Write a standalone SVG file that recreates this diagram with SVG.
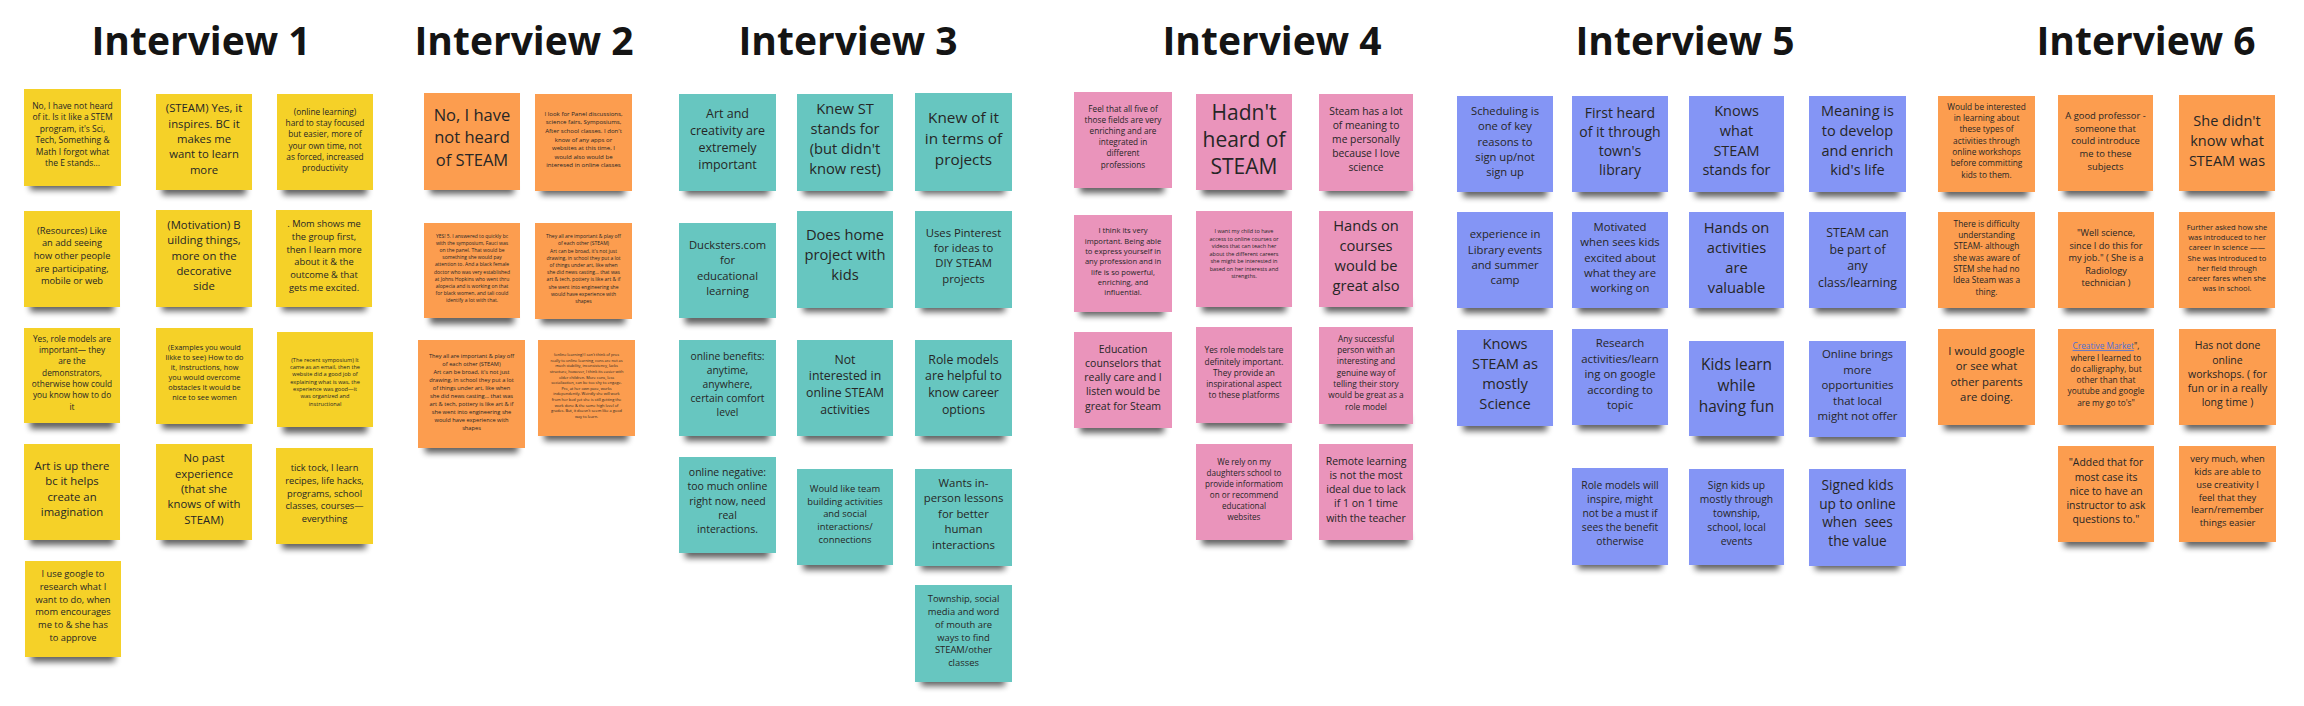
<svg xmlns="http://www.w3.org/2000/svg" width="2304" height="706" viewBox="0 0 2304 706">
<defs>
<filter id="bl" x="-20%" y="-100%" width="140%" height="400%"><feGaussianBlur stdDeviation="3"/><feOffset dy="2.5"/></filter>
<style>
.t{font-family:"Open Sans","Liberation Sans",sans-serif;fill:#262626;text-anchor:middle}
.h{font-family:"Open Sans","Liberation Sans",sans-serif;font-weight:700;font-size:39px;fill:#141414;text-anchor:middle}
.y{fill:#F5D128}.o{fill:#FC9D4F}.g{fill:#67C6C0}.p{fill:#EA94BB}.b{fill:#8495F5}
.s{fill:#000;opacity:.62;filter:url(#bl)}
.lk{fill:#4a6fd6;text-decoration:underline}
</style>
</defs>
<rect width="2304" height="706" fill="#fff"/>
<g id="titles">
<text class="h" x="201" y="55">Interview 1</text>
<text class="h" x="524" y="55">Interview 2</text>
<text class="h" x="848" y="55">Interview 3</text>
<text class="h" x="1272" y="55">Interview 4</text>
<text class="h" x="1685" y="55">Interview 5</text>
<text class="h" x="2146" y="55">Interview 6</text>
</g>
<g id="connectors"/>
<!-- Interview 1 -->
<g id="i1n1" transform="translate(24,89)"><rect class="s" x="6" y="86" width="84" height="12"/><rect class="y" width="97" height="97"/><text class="t" font-size="8.5"><tspan x="48.5" y="19.6">No, I have not heard</tspan><tspan x="48.5" dy="11.5">of it. Is it like a STEM</tspan><tspan x="48.5" dy="11.5">program, it's Sci,</tspan><tspan x="48.5" dy="11.5">Tech, Something &amp;</tspan><tspan x="48.5" dy="11.5">Math I forgot what</tspan><tspan x="48.5" dy="11.5">the E stands...</tspan></text></g>
<g id="i1n2" transform="translate(156,94)"><rect class="s" x="6" y="86" width="84" height="12"/><rect class="y" width="96" height="96"/><text class="t" font-size="11.3"><tspan x="48" y="18.4">(STEAM) Yes, it</tspan><tspan x="48" dy="15.3">inspires. BC it</tspan><tspan x="48" dy="15.3">makes me</tspan><tspan x="48" dy="15.3">want to learn</tspan><tspan x="48" dy="15.3">more</tspan></text></g>
<g id="i1n3" transform="translate(277,94)"><rect class="s" x="6" y="86" width="84" height="12"/><rect class="y" width="96" height="96"/><text class="t" font-size="8.3"><tspan x="48" y="20.8">(online learning)</tspan><tspan x="48" dy="11.3">hard to stay focused</tspan><tspan x="48" dy="11.3">but easier, more of</tspan><tspan x="48" dy="11.3">your own time, not</tspan><tspan x="48" dy="11.3">as forced, increased</tspan><tspan x="48" dy="11.3">productivity</tspan></text></g>
<g id="i1n4" transform="translate(24,211)"><rect class="s" x="6" y="86" width="84" height="12"/><rect class="y" width="96" height="96"/><text class="t" font-size="9.3"><tspan x="48" y="22.5">(Resources) Like</tspan><tspan x="48" dy="12.7">an add seeing</tspan><tspan x="48" dy="12.7">how other people</tspan><tspan x="48" dy="12.7">are participating,</tspan><tspan x="48" dy="12.7">mobile or web</tspan></text></g>
<g id="i1n5" transform="translate(156,210)"><rect class="s" x="6" y="86" width="84" height="12"/><rect class="y" width="96" height="97"/><text class="t" font-size="11.3"><tspan x="48" y="19.1">(Motivation) B</tspan><tspan x="48" dy="15.3">uilding things,</tspan><tspan x="48" dy="15.3">more on the</tspan><tspan x="48" dy="15.3">decorative</tspan><tspan x="48" dy="15.3">side</tspan></text></g>
<g id="i1n6" transform="translate(276,210)"><rect class="s" x="6" y="86" width="84" height="12"/><rect class="y" width="96" height="97"/><text class="t" font-size="9.3"><tspan x="48" y="17.1">. Mom shows me</tspan><tspan x="48" dy="12.7">the group first,</tspan><tspan x="48" dy="12.7">then I learn more</tspan><tspan x="48" dy="12.7">about it &amp; the</tspan><tspan x="48" dy="12.7">outcome &amp; that</tspan><tspan x="48" dy="12.7">gets me excited.</tspan></text></g>
<g id="i1n7" transform="translate(24,328)"><rect class="s" x="6" y="86" width="84" height="12"/><rect class="y" width="96" height="95"/><text class="t" font-size="8.3"><tspan x="48" y="13.8">Yes, role models are</tspan><tspan x="48" dy="11.3">important— they</tspan><tspan x="48" dy="11.3">are the</tspan><tspan x="48" dy="11.3">demonstrators,</tspan><tspan x="48" dy="11.3">otherwise how could</tspan><tspan x="48" dy="11.3">you know how to do</tspan><tspan x="48" dy="11.3">it</tspan></text></g>
<g id="i1n8" transform="translate(156,328)"><rect class="s" x="6" y="86" width="84" height="12"/><rect class="y" width="97" height="96"/><text class="t" font-size="7.4"><tspan x="48.5" y="21.9">(Examples you would</tspan><tspan x="48.5" dy="10">likke to see) How to do</tspan><tspan x="48.5" dy="10">it, Instructions, how</tspan><tspan x="48.5" dy="10">you would overcome</tspan><tspan x="48.5" dy="10">obstacles It would be</tspan><tspan x="48.5" dy="10">nice to see women</tspan></text></g>
<g id="i1n9" transform="translate(277,332)"><rect class="s" x="6" y="86" width="84" height="12"/><rect class="y" width="96" height="95"/><text class="t" font-size="5.6"><tspan x="48" y="29.8">(The recent symposium) It</tspan><tspan x="48" dy="7.3">came as an email, then the</tspan><tspan x="48" dy="7.3">website did a good job of</tspan><tspan x="48" dy="7.3">explaining what is was, the</tspan><tspan x="48" dy="7.3">experience was good—it</tspan><tspan x="48" dy="7.3">was organized and</tspan><tspan x="48" dy="7.3">instructional</tspan></text></g>
<g id="i1n10" transform="translate(24,444)"><rect class="s" x="6" y="86" width="84" height="12"/><rect class="y" width="96" height="96"/><text class="t" font-size="11.3"><tspan x="48" y="26.1">Art is up there</tspan><tspan x="48" dy="15.3">bc it helps</tspan><tspan x="48" dy="15.3">create an</tspan><tspan x="48" dy="15.3">imagination</tspan></text></g>
<g id="i1n11" transform="translate(156,444)"><rect class="s" x="6" y="86" width="84" height="12"/><rect class="y" width="96" height="96"/><text class="t" font-size="11.3"><tspan x="48" y="18.4">No past</tspan><tspan x="48" dy="15.3">experience</tspan><tspan x="48" dy="15.3">(that she</tspan><tspan x="48" dy="15.3">knows of with</tspan><tspan x="48" dy="15.3">STEAM)</tspan></text></g>
<g id="i1n12" transform="translate(276,448)"><rect class="s" x="6" y="86" width="84" height="12"/><rect class="y" width="97" height="96"/><text class="t" font-size="9.3"><tspan x="48.5" y="23.1">tick tock, I learn</tspan><tspan x="48.5" dy="12.7">recipes, life hacks,</tspan><tspan x="48.5" dy="12.7">programs, school</tspan><tspan x="48.5" dy="12.7">classes, courses—</tspan><tspan x="48.5" dy="12.7">everything</tspan></text></g>
<g id="i1n13" transform="translate(25,561)"><rect class="s" x="6" y="86" width="84" height="12"/><rect class="y" width="96" height="96"/><text class="t" font-size="9.3"><tspan x="48" y="16.1">I use google to</tspan><tspan x="48" dy="12.7">research what I</tspan><tspan x="48" dy="12.7">want to do, when</tspan><tspan x="48" dy="12.7">mom encourages</tspan><tspan x="48" dy="12.7">me to &amp; she has</tspan><tspan x="48" dy="12.7">to approve</tspan></text></g>
<!-- Interview 2 -->
<g id="i2n1" transform="translate(424,93)"><rect class="s" x="6" y="86" width="84" height="12"/><rect class="o" width="96" height="97"/><text class="t" font-size="16.5"><tspan x="48" y="28">No, I have</tspan><tspan x="48" dy="22.3">not heard</tspan><tspan x="48" dy="22.3">of STEAM</tspan></text></g>
<g id="i2n2" transform="translate(535,94)"><rect class="s" x="6" y="86" width="84" height="12"/><rect class="o" width="97" height="97"/><text class="t" font-size="6.1"><tspan x="48.5" y="21.8">I look for Panel discussions,</tspan><tspan x="48.5" dy="8.6">science fairs, Symposiums,</tspan><tspan x="48.5" dy="8.6">After school classes. I don't</tspan><tspan x="48.5" dy="8.6">know of any apps or</tspan><tspan x="48.5" dy="8.6">websites at this time, I</tspan><tspan x="48.5" dy="8.6">would also would be</tspan><tspan x="48.5" dy="8.6">interesed in online classes</tspan></text></g>
<g id="i2n3" transform="translate(424,223)"><rect class="s" x="6" y="86" width="84" height="12"/><rect class="o" width="96" height="95"/><text class="t" font-size="5"><tspan x="48" y="14.6">YES! 5. I answered to quickly bc</tspan><tspan x="48" dy="7.2">with the symposium, Fauci was</tspan><tspan x="48" dy="7.2">on the panel. That would be</tspan><tspan x="48" dy="7.2">something she would pay</tspan><tspan x="48" dy="7.2">attention to. And a black female</tspan><tspan x="48" dy="7.2">doctor who was very established</tspan><tspan x="48" dy="7.2">at Johns Hopkins who went thru</tspan><tspan x="48" dy="7.2">alopecia and is working on that</tspan><tspan x="48" dy="7.2">for black women, and tali could</tspan><tspan x="48" dy="7.2">identify a lot with that.</tspan></text></g>
<g id="i2n4" transform="translate(535,223)"><rect class="s" x="6" y="86" width="84" height="12"/><rect class="o" width="97" height="96"/><text class="t" font-size="5"><tspan x="48.5" y="15.2">They all are important &amp; play off</tspan><tspan x="48.5" dy="7.2">of each other (STEAM)</tspan><tspan x="48.5" dy="7.2">Art can be broad, it's not just</tspan><tspan x="48.5" dy="7.2">drawing, in school they put a lot</tspan><tspan x="48.5" dy="7.2">of things under art, like when</tspan><tspan x="48.5" dy="7.2">she did news casting… that was</tspan><tspan x="48.5" dy="7.2">art &amp; tech, pottery is like art &amp; if</tspan><tspan x="48.5" dy="7.2">she went into engineering she</tspan><tspan x="48.5" dy="7.2">would have experience with</tspan><tspan x="48.5" dy="7.2">shapes</tspan></text></g>
<g id="i2n5" transform="translate(418,340)"><rect class="s" x="7" y="97" width="93" height="13"/><rect class="o" width="107" height="108"/><text class="t" font-size="5.7"><tspan x="53.5" y="17.5">They all are important &amp; play off</tspan><tspan x="53.5" dy="8.1">of each other (STEAM)</tspan><tspan x="53.5" dy="8.1">Art can be broad, it's not just</tspan><tspan x="53.5" dy="8.1">drawing, in school they put a lot</tspan><tspan x="53.5" dy="8.1">of things under art, like when</tspan><tspan x="53.5" dy="8.1">she did news casting… that was</tspan><tspan x="53.5" dy="8.1">art &amp; tech, pottery is like art &amp; if</tspan><tspan x="53.5" dy="8.1">she went into engineering she</tspan><tspan x="53.5" dy="8.1">would have experience with</tspan><tspan x="53.5" dy="8.1">shapes</tspan></text></g>
<g id="i2n6" transform="translate(538,340)"><rect class="s" x="6" y="86" width="84" height="12"/><rect class="o" width="97" height="96"/><text class="t" font-size="3.9"><tspan x="48.5" y="16.2">(online learning) I can't think of pros</tspan><tspan x="48.5" dy="5.6">really to online learning, cons are not as</tspan><tspan x="48.5" dy="5.6">much stability, inconsistency, lacks</tspan><tspan x="48.5" dy="5.6">structure, however, I think its easier with</tspan><tspan x="48.5" dy="5.6">older children. More cons, less</tspan><tspan x="48.5" dy="5.6">socialization, can be too shy to engage.</tspan><tspan x="48.5" dy="5.6">Pro, at her own pace, works</tspan><tspan x="48.5" dy="5.6">independently. Weirdly she will work</tspan><tspan x="48.5" dy="5.6">from her bed yet she is still getting the</tspan><tspan x="48.5" dy="5.6">work done &amp; the same high level of</tspan><tspan x="48.5" dy="5.6">grades. But, it doesn't seem like a good</tspan><tspan x="48.5" dy="5.6">way to learn.</tspan></text></g>
<!-- Interview 3 -->
<g id="i3n1" transform="translate(679,94)"><rect class="s" x="6" y="86" width="84" height="12"/><rect class="g" width="97" height="97"/><text class="t" font-size="12.5"><tspan x="48.5" y="23.8">Art and</tspan><tspan x="48.5" dy="17">creativity are</tspan><tspan x="48.5" dy="17">extremely</tspan><tspan x="48.5" dy="17">important</tspan></text></g>
<g id="i3n2" transform="translate(797,94)"><rect class="s" x="6" y="86" width="84" height="12"/><rect class="g" width="96" height="97"/><text class="t" font-size="14.7"><tspan x="48" y="20.4">Knew ST</tspan><tspan x="48" dy="20">stands for</tspan><tspan x="48" dy="20">(but didn't</tspan><tspan x="48" dy="20">know rest)</tspan></text></g>
<g id="i3n3" transform="translate(915,93)"><rect class="s" x="6" y="86" width="84" height="12"/><rect class="g" width="97" height="98"/><text class="t" font-size="15.3"><tspan x="48.5" y="29.9">Knew of it</tspan><tspan x="48.5" dy="20.8">in terms of</tspan><tspan x="48.5" dy="20.8">projects</tspan></text></g>
<g id="i3n4" transform="translate(679,223)"><rect class="s" x="6" y="86" width="84" height="12"/><rect class="g" width="97" height="95"/><text class="t" font-size="11.2"><tspan x="48.5" y="26.1">Ducksters.com</tspan><tspan x="48.5" dy="15.2">for</tspan><tspan x="48.5" dy="15.2">educational</tspan><tspan x="48.5" dy="15.2">learning</tspan></text></g>
<g id="i3n5" transform="translate(797,211)"><rect class="s" x="6" y="86" width="84" height="12"/><rect class="g" width="96" height="97"/><text class="t" font-size="14.7"><tspan x="48" y="29.1">Does home</tspan><tspan x="48" dy="20">project with</tspan><tspan x="48" dy="20">kids</tspan></text></g>
<g id="i3n6" transform="translate(915,211)"><rect class="s" x="6" y="86" width="84" height="12"/><rect class="g" width="97" height="97"/><text class="t" font-size="11.3"><tspan x="48.5" y="25.7">Uses Pinterest</tspan><tspan x="48.5" dy="15.3">for ideas to</tspan><tspan x="48.5" dy="15.3">DIY STEAM</tspan><tspan x="48.5" dy="15.3">projects</tspan></text></g>
<g id="i3n7" transform="translate(679,340)"><rect class="s" x="6" y="86" width="84" height="12"/><rect class="g" width="97" height="96"/><text class="t" font-size="10.3"><tspan x="48.5" y="19.8">online benefits:</tspan><tspan x="48.5" dy="14">anytime,</tspan><tspan x="48.5" dy="14">anywhere,</tspan><tspan x="48.5" dy="14">certain comfort</tspan><tspan x="48.5" dy="14">level</tspan></text></g>
<g id="i3n8" transform="translate(797,340)"><rect class="s" x="6" y="86" width="84" height="12"/><rect class="g" width="96" height="96"/><text class="t" font-size="12.3"><tspan x="48" y="23.7">Not</tspan><tspan x="48" dy="16.7">interested in</tspan><tspan x="48" dy="16.7">online STEAM</tspan><tspan x="48" dy="16.7">activities</tspan></text></g>
<g id="i3n9" transform="translate(915,340)"><rect class="s" x="6" y="86" width="84" height="12"/><rect class="g" width="97" height="96"/><text class="t" font-size="12.3"><tspan x="48.5" y="23.7">Role models</tspan><tspan x="48.5" dy="16.7">are helpful to</tspan><tspan x="48.5" dy="16.7">know career</tspan><tspan x="48.5" dy="16.7">options</tspan></text></g>
<g id="i3n10" transform="translate(679,457)"><rect class="s" x="6" y="86" width="84" height="12"/><rect class="g" width="97" height="96"/><text class="t" font-size="10.5"><tspan x="48.5" y="18.9">online negative:</tspan><tspan x="48.5" dy="14.3">too much online</tspan><tspan x="48.5" dy="14.3">right now, need</tspan><tspan x="48.5" dy="14.3">real</tspan><tspan x="48.5" dy="14.3">interactions.</tspan></text></g>
<g id="i3n11" transform="translate(797,469)"><rect class="s" x="6" y="86" width="84" height="12"/><rect class="g" width="96" height="96"/><text class="t" font-size="9.4"><tspan x="48" y="22.8">Would like team</tspan><tspan x="48" dy="12.75">building activities</tspan><tspan x="48" dy="12.75">and social</tspan><tspan x="48" dy="12.75">interactions/</tspan><tspan x="48" dy="12.75">connections</tspan></text></g>
<g id="i3n12" transform="translate(915,469)"><rect class="s" x="6" y="86" width="84" height="12"/><rect class="g" width="97" height="97"/><text class="t" font-size="11.4"><tspan x="48.5" y="17.7">Wants in-</tspan><tspan x="48.5" dy="15.5">person lessons</tspan><tspan x="48.5" dy="15.5">for better</tspan><tspan x="48.5" dy="15.5">human</tspan><tspan x="48.5" dy="15.5">interactions</tspan></text></g>
<g id="i3n13" transform="translate(915,585)"><rect class="s" x="6" y="86" width="84" height="12"/><rect class="g" width="97" height="97"/><text class="t" font-size="9.4"><tspan x="48.5" y="17.1">Township, social</tspan><tspan x="48.5" dy="12.8">media and word</tspan><tspan x="48.5" dy="12.8">of mouth are</tspan><tspan x="48.5" dy="12.8">ways to find</tspan><tspan x="48.5" dy="12.8">STEAM/other</tspan><tspan x="48.5" dy="12.8">classes</tspan></text></g>
<!-- Interview 4 -->
<g id="i4n1" transform="translate(1074,92)"><rect class="s" x="6" y="86" width="84" height="12"/><rect class="p" width="98" height="96"/><text class="t" font-size="8.2"><tspan x="49" y="19.5">Feel that all five of</tspan><tspan x="49" dy="11.2">those fields are very</tspan><tspan x="49" dy="11.2">enriching and are</tspan><tspan x="49" dy="11.2">integrated in</tspan><tspan x="49" dy="11.2">different</tspan><tspan x="49" dy="11.2">professions</tspan></text></g>
<g id="i4n2" transform="translate(1196,94)"><rect class="s" x="6" y="86" width="84" height="12"/><rect class="p" width="96" height="96"/><text class="t" font-size="21"><tspan x="48" y="25.5">Hadn't</tspan><tspan x="48" dy="27">heard of</tspan><tspan x="48" dy="27">STEAM</tspan></text></g>
<g id="i4n3" transform="translate(1319,94)"><rect class="s" x="6" y="86" width="84" height="12"/><rect class="p" width="94" height="97"/><text class="t" font-size="10.3"><tspan x="47" y="20.8">Steam has a lot</tspan><tspan x="47" dy="14">of meaning to</tspan><tspan x="47" dy="14">me personally</tspan><tspan x="47" dy="14">because I love</tspan><tspan x="47" dy="14">science</tspan></text></g>
<g id="i4n4" transform="translate(1074,215)"><rect class="s" x="6" y="86" width="84" height="12"/><rect class="p" width="98" height="97"/><text class="t" font-size="7.6"><tspan x="49" y="18.3">I think its very</tspan><tspan x="49" dy="10.3">important. Being able</tspan><tspan x="49" dy="10.3">to express yourself in</tspan><tspan x="49" dy="10.3">any profession and in</tspan><tspan x="49" dy="10.3">life is so powerful,</tspan><tspan x="49" dy="10.3">enriching, and</tspan><tspan x="49" dy="10.3">influential.</tspan></text></g>
<g id="i4n5" transform="translate(1196,211)"><rect class="s" x="6" y="86" width="84" height="12"/><rect class="p" width="96" height="96"/><text class="t" font-size="5.5"><tspan x="48" y="22.4">I want my child to have</tspan><tspan x="48" dy="7.5">access to online courses or</tspan><tspan x="48" dy="7.5">videos that can teach her</tspan><tspan x="48" dy="7.5">about the different careers</tspan><tspan x="48" dy="7.5">she might be interested in</tspan><tspan x="48" dy="7.5">based on her interests and</tspan><tspan x="48" dy="7.5">strengths.</tspan></text></g>
<g id="i4n6" transform="translate(1319,211)"><rect class="s" x="6" y="86" width="84" height="12"/><rect class="p" width="94" height="96"/><text class="t" font-size="14.7"><tspan x="47" y="20.1">Hands on</tspan><tspan x="47" dy="20">courses</tspan><tspan x="47" dy="20">would be</tspan><tspan x="47" dy="20">great also</tspan></text></g>
<g id="i4n7" transform="translate(1074,332)"><rect class="s" x="6" y="86" width="84" height="12"/><rect class="p" width="98" height="96"/><text class="t" font-size="10.5"><tspan x="49" y="20.5">Education</tspan><tspan x="49" dy="14.3">counselors that</tspan><tspan x="49" dy="14.3">really care and I</tspan><tspan x="49" dy="14.3">listen would be</tspan><tspan x="49" dy="14.3">great for Steam</tspan></text></g>
<g id="i4n8" transform="translate(1196,327)"><rect class="s" x="6" y="86" width="84" height="12"/><rect class="p" width="96" height="96"/><text class="t" font-size="8.3"><tspan x="48" y="26.2">Yes role models tare</tspan><tspan x="48" dy="11.3">definitely important.</tspan><tspan x="48" dy="11.3">They provide an</tspan><tspan x="48" dy="11.3">inspirational aspect</tspan><tspan x="48" dy="11.3">to these platforms</tspan></text></g>
<g id="i4n9" transform="translate(1319,327)"><rect class="s" x="6" y="86" width="84" height="12"/><rect class="p" width="94" height="97"/><text class="t" font-size="8.3"><tspan x="47" y="14.8">Any successful</tspan><tspan x="47" dy="11.3">person with an</tspan><tspan x="47" dy="11.3">interesting and</tspan><tspan x="47" dy="11.3">genuine way of</tspan><tspan x="47" dy="11.3">telling their story</tspan><tspan x="47" dy="11.3">would be great as a</tspan><tspan x="47" dy="11.3">role model</tspan></text></g>
<g id="i4n10" transform="translate(1196,444)"><rect class="s" x="6" y="86" width="84" height="12"/><rect class="p" width="96" height="96"/><text class="t" font-size="8.1"><tspan x="48" y="20.7">We rely on my</tspan><tspan x="48" dy="11">daughters school to</tspan><tspan x="48" dy="11">provide informatiom</tspan><tspan x="48" dy="11">on or recommend</tspan><tspan x="48" dy="11">educational</tspan><tspan x="48" dy="11">websites</tspan></text></g>
<g id="i4n11" transform="translate(1319,444)"><rect class="s" x="6" y="86" width="84" height="12"/><rect class="p" width="94" height="96"/><text class="t" font-size="10.5"><tspan x="47" y="20.5">Remote learning</tspan><tspan x="47" dy="14.3">is not the most</tspan><tspan x="47" dy="14.3">ideal due to lack</tspan><tspan x="47" dy="14.3">if 1 on 1 time</tspan><tspan x="47" dy="14.3">with the teacher</tspan></text></g>
<!-- Interview 5 -->
<g id="i5n1" transform="translate(1457,96)"><rect class="s" x="6" y="86" width="84" height="12"/><rect class="b" width="96" height="96"/><text class="t" font-size="11.2"><tspan x="48" y="19.1">Scheduling is</tspan><tspan x="48" dy="15.25">one of key</tspan><tspan x="48" dy="15.25">reasons to</tspan><tspan x="48" dy="15.25">sign up/not</tspan><tspan x="48" dy="15.25">sign up</tspan></text></g>
<g id="i5n2" transform="translate(1572,96)"><rect class="s" x="6" y="86" width="84" height="12"/><rect class="b" width="96" height="96"/><text class="t" font-size="14"><tspan x="48" y="21.5">First heard</tspan><tspan x="48" dy="19">of it through</tspan><tspan x="48" dy="19">town's</tspan><tspan x="48" dy="19">library</tspan></text></g>
<g id="i5n3" transform="translate(1689,96)"><rect class="s" x="6" y="86" width="84" height="12"/><rect class="b" width="95" height="96"/><text class="t" font-size="14.5"><tspan x="47.5" y="20.1">Knows</tspan><tspan x="47.5" dy="19.7">what</tspan><tspan x="47.5" dy="19.7">STEAM</tspan><tspan x="47.5" dy="19.7">stands for</tspan></text></g>
<g id="i5n4" transform="translate(1809,96)"><rect class="s" x="6" y="86" width="84" height="12"/><rect class="b" width="97" height="96"/><text class="t" font-size="14.5"><tspan x="48.5" y="20.1">Meaning is</tspan><tspan x="48.5" dy="19.7">to develop</tspan><tspan x="48.5" dy="19.7">and enrich</tspan><tspan x="48.5" dy="19.7">kid's life</tspan></text></g>
<g id="i5n5" transform="translate(1457,212)"><rect class="s" x="6" y="86" width="84" height="12"/><rect class="b" width="96" height="96"/><text class="t" font-size="11.3"><tspan x="48" y="26.4">experience in</tspan><tspan x="48" dy="15.3">Library events</tspan><tspan x="48" dy="15.3">and summer</tspan><tspan x="48" dy="15.3">camp</tspan></text></g>
<g id="i5n6" transform="translate(1572,212)"><rect class="s" x="6" y="86" width="84" height="12"/><rect class="b" width="96" height="96"/><text class="t" font-size="11.3"><tspan x="48" y="18.7">Motivated</tspan><tspan x="48" dy="15.4">when sees kids</tspan><tspan x="48" dy="15.4">excited about</tspan><tspan x="48" dy="15.4">what they are</tspan><tspan x="48" dy="15.4">working on</tspan></text></g>
<g id="i5n7" transform="translate(1689,212)"><rect class="s" x="6" y="86" width="84" height="12"/><rect class="b" width="95" height="96"/><text class="t" font-size="14.7"><tspan x="47.5" y="20.7">Hands on</tspan><tspan x="47.5" dy="20">activities</tspan><tspan x="47.5" dy="20">are</tspan><tspan x="47.5" dy="20">valuable</tspan></text></g>
<g id="i5n8" transform="translate(1809,212)"><rect class="s" x="6" y="86" width="84" height="12"/><rect class="b" width="97" height="96"/><text class="t" font-size="12.3"><tspan x="48.5" y="25">STEAM can</tspan><tspan x="48.5" dy="16.7">be part of</tspan><tspan x="48.5" dy="16.7">any</tspan><tspan x="48.5" dy="16.7">class/learning</tspan></text></g>
<g id="i5n9" transform="translate(1457,330)"><rect class="s" x="6" y="86" width="84" height="12"/><rect class="b" width="96" height="96"/><text class="t" font-size="14.7"><tspan x="48" y="18.7">Knows</tspan><tspan x="48" dy="20">STEAM as</tspan><tspan x="48" dy="20">mostly</tspan><tspan x="48" dy="20">Science</tspan></text></g>
<g id="i5n10" transform="translate(1572,329)"><rect class="s" x="6" y="86" width="84" height="12"/><rect class="b" width="96" height="96"/><text class="t" font-size="11.4"><tspan x="48" y="18.4">Research</tspan><tspan x="48" dy="15.5">activities/learn</tspan><tspan x="48" dy="15.5">ing on google</tspan><tspan x="48" dy="15.5">according to</tspan><tspan x="48" dy="15.5">topic</tspan></text></g>
<g id="i5n11" transform="translate(1689,341)"><rect class="s" x="6" y="86" width="84" height="12"/><rect class="b" width="95" height="95"/><text class="t" font-size="15.4"><tspan x="47.5" y="28.6">Kids learn</tspan><tspan x="47.5" dy="21">while</tspan><tspan x="47.5" dy="21">having fun</tspan></text></g>
<g id="i5n12" transform="translate(1809,341)"><rect class="s" x="6" y="86" width="84" height="12"/><rect class="b" width="97" height="96"/><text class="t" font-size="11.4"><tspan x="48.5" y="17.4">Online brings</tspan><tspan x="48.5" dy="15.5">more</tspan><tspan x="48.5" dy="15.5">opportunities</tspan><tspan x="48.5" dy="15.5">that local</tspan><tspan x="48.5" dy="15.5">might not offer</tspan></text></g>
<g id="i5n13" transform="translate(1572,468)"><rect class="s" x="6" y="86" width="84" height="12"/><rect class="b" width="96" height="97"/><text class="t" font-size="10.3"><tspan x="48" y="20.8">Role models will</tspan><tspan x="48" dy="14">inspire, might</tspan><tspan x="48" dy="14">not be a must if</tspan><tspan x="48" dy="14">sees the benefit</tspan><tspan x="48" dy="14">otherwise</tspan></text></g>
<g id="i5n14" transform="translate(1689,469)"><rect class="s" x="6" y="86" width="84" height="12"/><rect class="b" width="95" height="96"/><text class="t" font-size="10.3"><tspan x="47.5" y="19.8">Sign kids up</tspan><tspan x="47.5" dy="14">mostly through</tspan><tspan x="47.5" dy="14">township,</tspan><tspan x="47.5" dy="14">school, local</tspan><tspan x="47.5" dy="14">events</tspan></text></g>
<g id="i5n15" transform="translate(1809,469)"><rect class="s" x="6" y="86" width="84" height="12"/><rect class="b" width="97" height="97"/><text class="t" font-size="13.7"><tspan x="48.5" y="20.8">Signed kids</tspan><tspan x="48.5" dy="18.7">up to online</tspan><tspan x="48.5" dy="18.7">when&#160; sees</tspan><tspan x="48.5" dy="18.7">the value</tspan></text></g>
<!-- Interview 6 -->
<g id="i6n1" transform="translate(1938,96)"><rect class="s" x="6" y="86" width="84" height="12"/><rect class="o" width="97" height="96"/><text class="t" font-size="8.3"><tspan x="48.5" y="13.8">Would be interested</tspan><tspan x="48.5" dy="11.3">in learning about</tspan><tspan x="48.5" dy="11.3">these types of</tspan><tspan x="48.5" dy="11.3">activities through</tspan><tspan x="48.5" dy="11.3">online workshops</tspan><tspan x="48.5" dy="11.3">before committing</tspan><tspan x="48.5" dy="11.3">kids to them.</tspan></text></g>
<g id="i6n2" transform="translate(2058,95)"><rect class="s" x="6" y="86" width="84" height="12"/><rect class="o" width="95" height="96"/><text class="t" font-size="9.4"><tspan x="47.5" y="23.8">A good professor -</tspan><tspan x="47.5" dy="12.8">someone that</tspan><tspan x="47.5" dy="12.8">could introduce</tspan><tspan x="47.5" dy="12.8">me to these</tspan><tspan x="47.5" dy="12.8">subjects</tspan></text></g>
<g id="i6n3" transform="translate(2179,95)"><rect class="s" x="6" y="86" width="84" height="12"/><rect class="o" width="96" height="96"/><text class="t" font-size="14.5"><tspan x="48" y="31.1">She didn't</tspan><tspan x="48" dy="19.7">know what</tspan><tspan x="48" dy="19.7">STEAM was</tspan></text></g>
<g id="i6n4" transform="translate(1938,212)"><rect class="s" x="6" y="86" width="84" height="12"/><rect class="o" width="97" height="96"/><text class="t" font-size="8.3"><tspan x="48.5" y="14.8">There is difficulty</tspan><tspan x="48.5" dy="11.3">understanding</tspan><tspan x="48.5" dy="11.3">STEAM- although</tspan><tspan x="48.5" dy="11.3">she was aware of</tspan><tspan x="48.5" dy="11.3">STEM she had no</tspan><tspan x="48.5" dy="11.3">Idea Steam was a</tspan><tspan x="48.5" dy="11.3">thing.</tspan></text></g>
<g id="i6n5" transform="translate(2058,212)"><rect class="s" x="6" y="86" width="84" height="12"/><rect class="o" width="96" height="96"/><text class="t" font-size="9.2"><tspan x="48" y="24.1">"Well science,</tspan><tspan x="48" dy="12.5">since I do this for</tspan><tspan x="48" dy="12.5">my job." ( She is a</tspan><tspan x="48" dy="12.5">Radiology</tspan><tspan x="48" dy="12.5">technician )</tspan></text></g>
<g id="i6n6" transform="translate(2179,212)"><rect class="s" x="6" y="86" width="84" height="12"/><rect class="o" width="96" height="96"/><text class="t" font-size="7.6"><tspan x="48" y="17.6">Further asked how she</tspan><tspan x="48" dy="10.3">was introduced to her</tspan><tspan x="48" dy="10.3">career in science ——</tspan><tspan x="48" dy="10.3">She was introduced to</tspan><tspan x="48" dy="10.3">her field through</tspan><tspan x="48" dy="10.3">career fares when she</tspan><tspan x="48" dy="10.3">was in school.</tspan></text></g>
<g id="i6n7" transform="translate(1938,329)"><rect class="s" x="6" y="86" width="84" height="12"/><rect class="o" width="97" height="96"/><text class="t" font-size="11.3"><tspan x="48.5" y="26.1">I would google</tspan><tspan x="48.5" dy="15.3">or see what</tspan><tspan x="48.5" dy="15.3">other parents</tspan><tspan x="48.5" dy="15.3">are doing.</tspan></text></g>
<g id="i6n8" transform="translate(2058,329)"><rect class="s" x="6" y="86" width="84" height="12"/><rect class="o" width="96" height="96"/><text class="t" font-size="8.3"><tspan x="48" y="20.2"><tspan class="lk">Creative Market</tspan>",</tspan><tspan x="48" dy="11.3">where I learned to</tspan><tspan x="48" dy="11.3">do calligraphy, but</tspan><tspan x="48" dy="11.3">other than that</tspan><tspan x="48" dy="11.3">youtube and google</tspan><tspan x="48" dy="11.3">are my go to's"</tspan></text></g>
<g id="i6n9" transform="translate(2179,329)"><rect class="s" x="6" y="86" width="84" height="12"/><rect class="o" width="97" height="96"/><text class="t" font-size="10.5"><tspan x="48.5" y="20.2">Has not done</tspan><tspan x="48.5" dy="14.3">online</tspan><tspan x="48.5" dy="14.3">workshops. ( for</tspan><tspan x="48.5" dy="14.3">fun or in a really</tspan><tspan x="48.5" dy="14.3">long time )</tspan></text></g>
<g id="i6n10" transform="translate(2058,446)"><rect class="s" x="6" y="86" width="84" height="12"/><rect class="o" width="96" height="96"/><text class="t" font-size="10.4"><tspan x="48" y="20.4">"Added that for</tspan><tspan x="48" dy="14.2">most case its</tspan><tspan x="48" dy="14.2">nice to have an</tspan><tspan x="48" dy="14.2">instructor to ask</tspan><tspan x="48" dy="14.2">questions to."</tspan></text></g>
<g id="i6n11" transform="translate(2179,446)"><rect class="s" x="6" y="86" width="84" height="12"/><rect class="o" width="97" height="96"/><text class="t" font-size="9.4"><tspan x="48.5" y="16.1">very much, when</tspan><tspan x="48.5" dy="12.8">kids are able to</tspan><tspan x="48.5" dy="12.8">use creativity I</tspan><tspan x="48.5" dy="12.8">feel that they</tspan><tspan x="48.5" dy="12.8">learn/remember</tspan><tspan x="48.5" dy="12.8">things easier</tspan></text></g>
</svg>
